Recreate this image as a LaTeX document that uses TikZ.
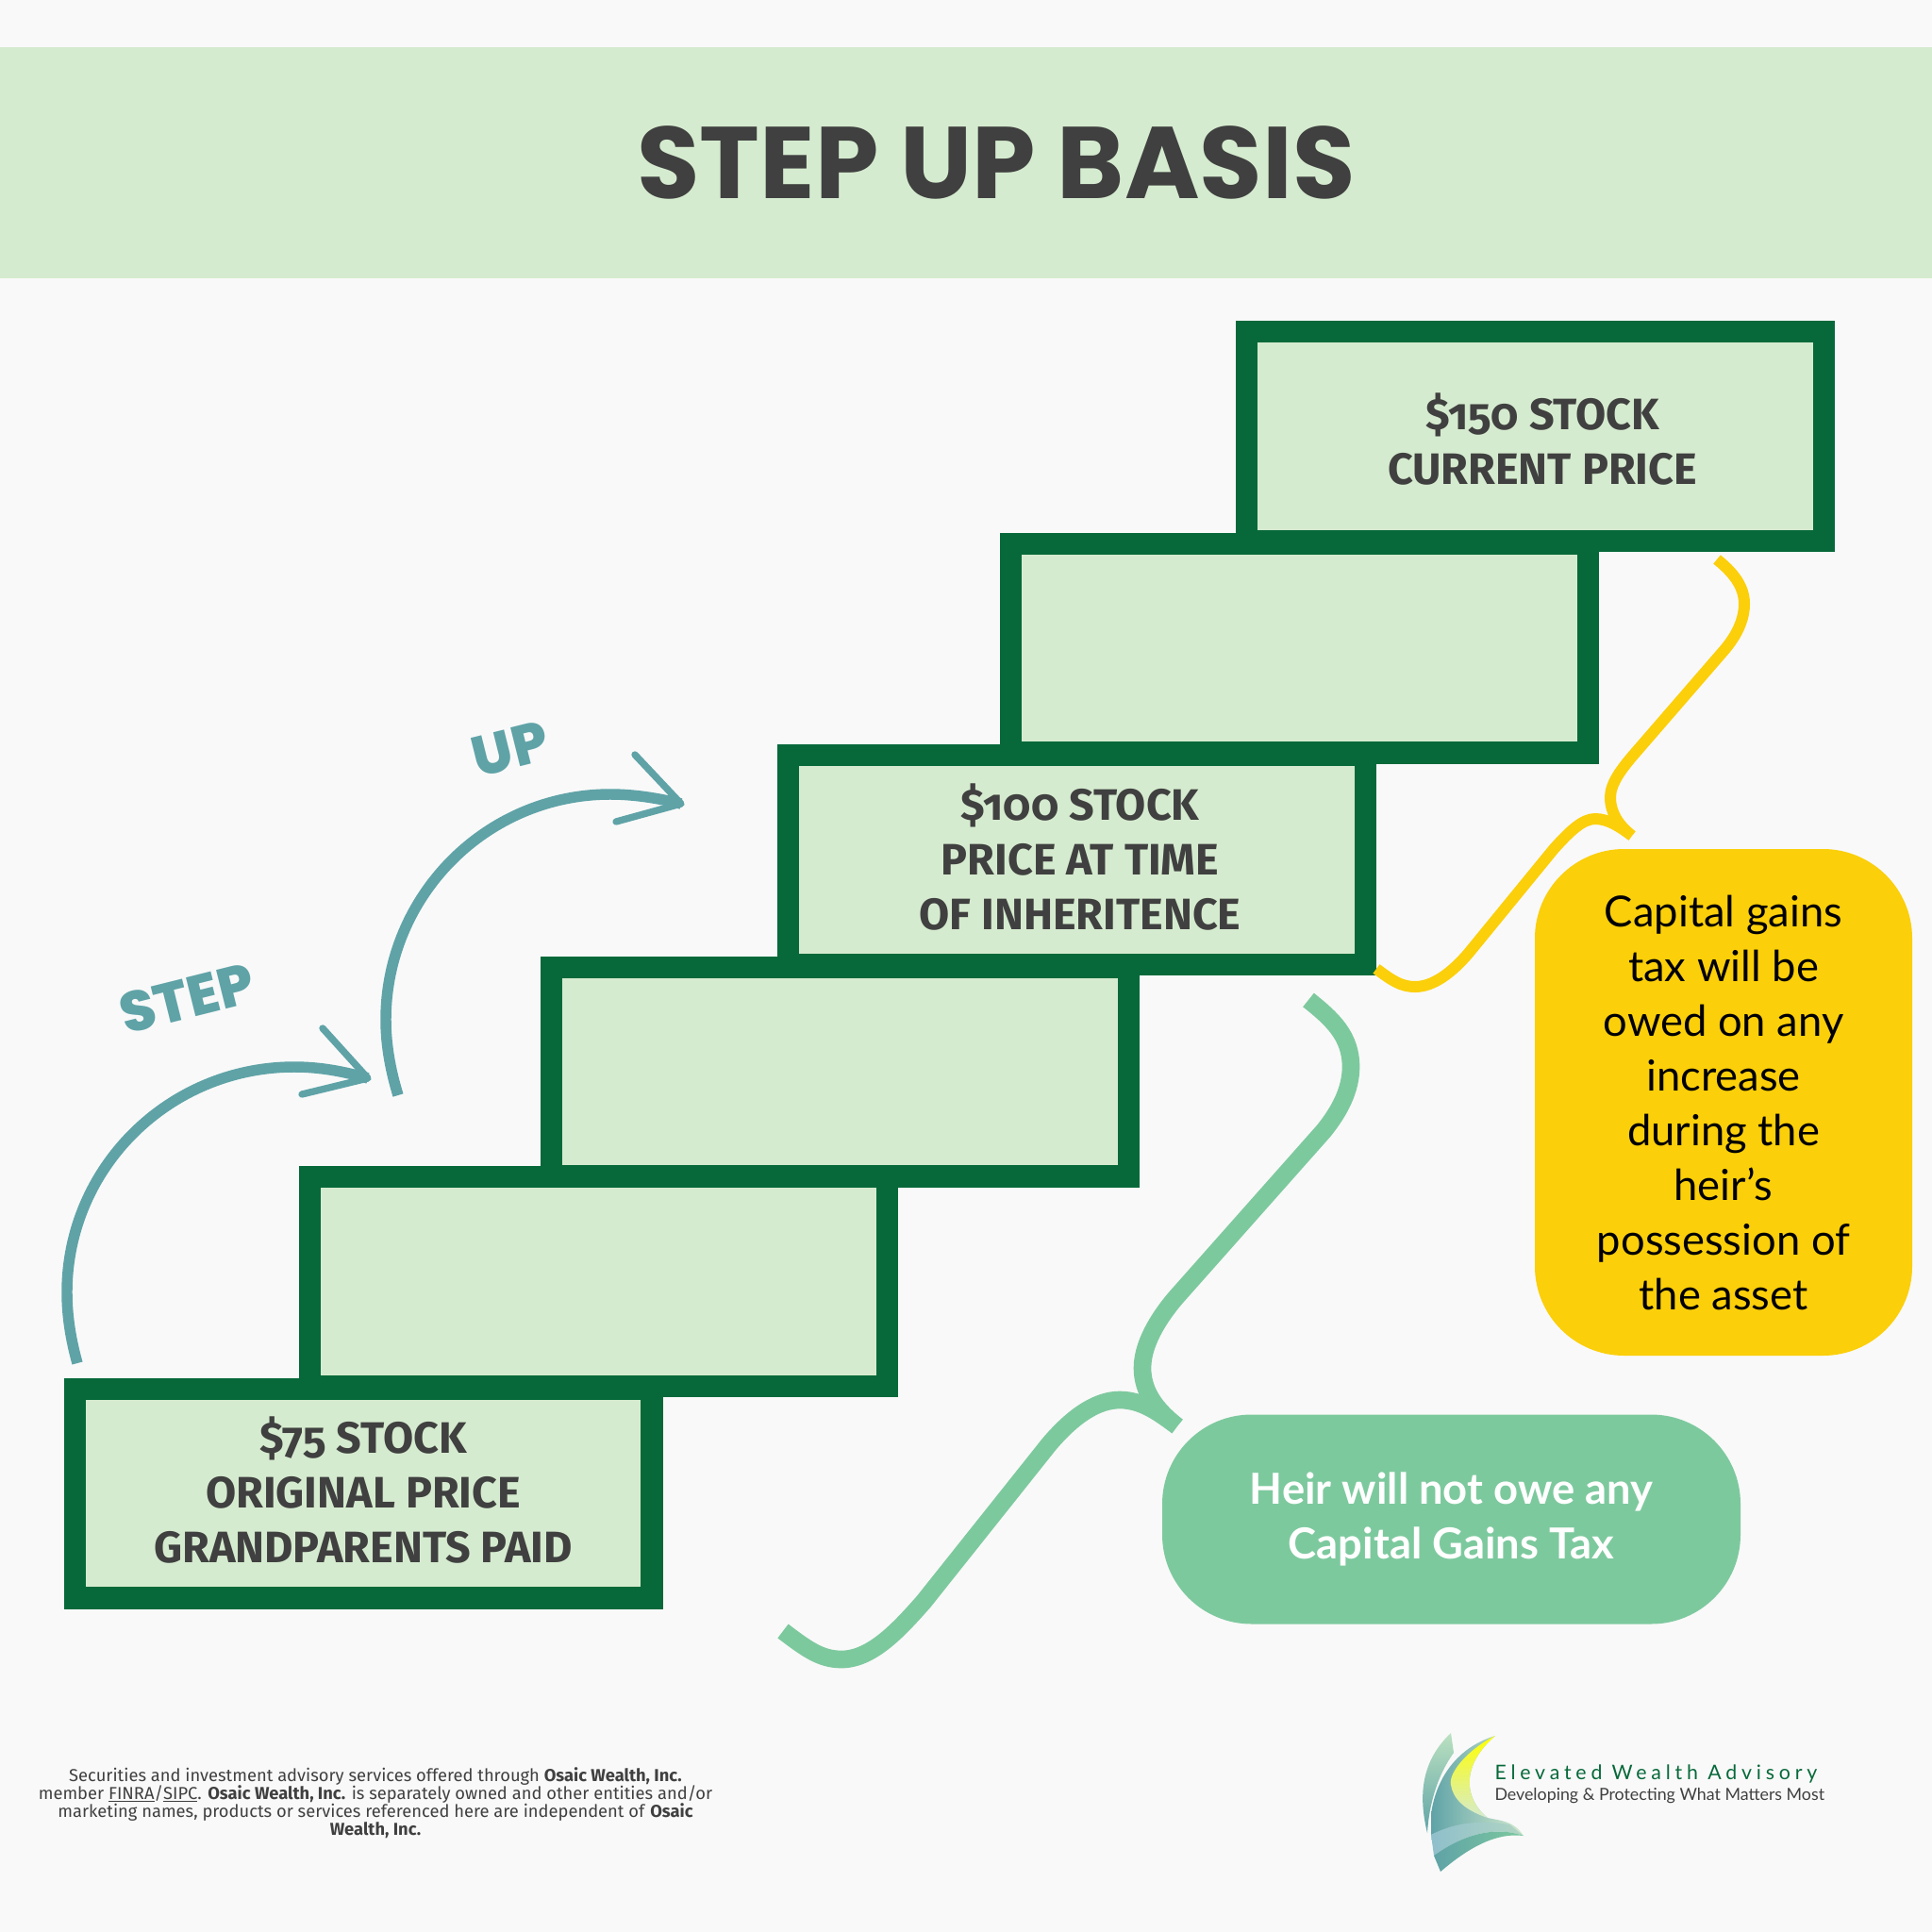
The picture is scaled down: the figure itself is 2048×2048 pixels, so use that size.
\documentclass[tikz,border=0pt]{standalone}
\usepackage{fontspec}
\setmainfont{Fira Sans}
\newfontfamily\boxfont{Fira Sans}[Numbers=OldStyle]
\newfontfamily\titlefont{Poppins}
\newfontfamily\hopfont{Poppins ExtraBold}
\newfontfamily\bubblefont{Lato}
\newfontfamily\smallfont{Fira Sans}
\newfontfamily\brandfont{Lato}[LetterSpace=22.5]
\newfontfamily\mottofont{Lato}
\definecolor{pagebg}{HTML}{F9F9F9}
\definecolor{palegreen}{HTML}{D5EBCF}
\definecolor{stepgreen}{HTML}{07693A}
\definecolor{inkgrey}{HTML}{404040}
\definecolor{tealline}{HTML}{5FA3A7}
\definecolor{bracegreen}{HTML}{7DC99E}
\definecolor{braceyellow}{HTML}{FBCF0A}
\definecolor{logoblue}{HTML}{8FBFCB}
\tikzset{every picture/.style={line width=0.75pt},
  stepbox/.style={draw=stepgreen,fill=palegreen,line width=17.6pt,minimum width=458.65pt,minimum height=166.15pt,inner sep=0pt},
  steptext/.style={text=inkgrey,align=center,inner sep=0pt,font=\boxfont\bfseries\fontsize{35}{43.5}\selectfont},
  hoplabel/.style={text=tealline,inner sep=0pt,rotate=14,font=\hopfont\fontsize{45}{48}\selectfont},
  hopline/.style={draw=tealline,line width=8.6pt},
  hophead/.style={draw=tealline,line width=5.5pt,line cap=round,line join=round},
  pill/.style={rounded corners=71pt,inner sep=0pt,align=center},
}

\begin{document}
\begin{tikzpicture}[x=0.75pt,y=0.75pt,yscale=-1,xscale=1]
\useasboundingbox (0,0) rectangle (2048,2048);
\fill[pagebg] (0,0) rectangle (2048,2048);

% Banner
\node[fill=palegreen,minimum width=1536pt,minimum height=183.75pt,inner sep=0pt] (banner) at (1024,172.5) {};
\node[text=inkgrey,inner sep=0pt,font=\titlefont\bfseries\fontsize{81}{83}\selectfont] (title) at (1056,172) {STEP UP BASIS};

% Stair boxes
\node[stepbox] (box1) at (385,1583) {};
\node[stepbox] (box2) at (634.5,1358.5) {};
\node[stepbox] (box3) at (890.5,1136) {};
\node[stepbox] (box4) at (1141.5,911.5) {};
\node[stepbox] (box5) at (1377.5,687) {};
\node[stepbox] (box6) at (1627.5,462.5) {};

% Text Node
\node[steptext] (text1) at (385,1580) {\$75 STOCK\\ORIGINAL PRICE\\GRANDPARENTS PAID};
\node[steptext] (text4) at (1145,909) {\$100 STOCK\\PRICE AT TIME\\OF INHERITENCE};
\node[steptext] (text6) at (1635,466) {\$150 STOCK\\CURRENT PRICE};

% Hop arrows
\coordinate (hopa) at (82,1445);
\coordinate (hopb) at (390,1143);
\coordinate (hopc) at (422,1161);
\coordinate (hopd) at (722,852);
\draw[hopline] (hopa) .. controls (75,1420) and (71,1395) .. (71,1370) .. controls (71,1238) and (179,1131) .. (312,1131) .. controls (340,1131) and (365,1136) .. (hopb);
\draw[hophead] (342,1090) -- (hopb) -- (320,1160);
\draw[hopline] (hopc) .. controls (414,1135) and (409,1108) .. (409,1081) .. controls (409,950) and (515,842) .. (647,842) .. controls (672,842) and (697,846) .. (hopd);
\draw[hophead] (673,800) -- (hopd) -- (653,871);
\node[hoplabel] (steplabel) at (198,1058) {STEP};
\node[hoplabel] (uplabel) at (541,794) {UP};

% Yellow brace
\coordinate (ytip) at (1730,886);
\draw[draw=braceyellow,line width=9pt] (1459,1027) .. controls (1475,1039) and (1485,1046) .. (1500,1046) .. controls (1520,1046) and (1540,1030) .. (1557,1010) -- (1647,900) .. controls (1665,880) and (1678,868) .. (1691,868) .. controls (1705,868) and (1718,877) .. (ytip)
  (ytip) .. controls (1716,875) and (1707,862) .. (1707,845) .. controls (1707,830) and (1720,814) .. (1730,802) -- (1827,690) .. controls (1840,675) and (1849,658) .. (1849,640) .. controls (1849,620) and (1835,605) .. (1820,593);

% Green brace
\coordinate (gtip) at (1248,1512);
\draw[draw=bracegreen,line width=14pt] (830,1729) .. controls (855,1748) and (870,1759) .. (892,1759) .. controls (925,1759) and (955,1725) .. (979,1698) -- (1112,1531) .. controls (1140,1498) and (1165,1484) .. (1187,1484) .. controls (1210,1484) and (1228,1497) .. (gtip)
  (gtip) .. controls (1225,1494) and (1211,1475) .. (1211,1450) .. controls (1211,1420) and (1235,1389) .. (1246,1376) -- (1403,1199) .. controls (1420,1178) and (1432,1155) .. (1432,1131) .. controls (1432,1098) and (1412,1080) .. (1387,1060);

% Bubbles
\node[pill,fill=braceyellow,minimum width=300pt,minimum height=402.75pt,text=black,font=\bubblefont\fontsize{34}{43.5}\selectfont] (taxbubble) at (1827,1168.5) {Capital gains\\tax will be\\owed on any\\increase\\during the\\heir’s\\possession of\\the asset};
\node[pill,fill=bracegreen,minimum width=459.75pt,minimum height=166.5pt,text=white,font=\bubblefont\bfseries\fontsize{34}{43.5}\selectfont] (heirbubble) at (1538.5,1610.5) {Heir will not owe any\\Capital Gains Tax};

% Disclaimer
\node[text=inkgrey,align=center,inner sep=0pt,font=\smallfont\fontsize{13.75}{14.3}\selectfont] (disclaimer) at (398,1911) {Securities and investment advisory services offered through \textbf{Osaic Wealth, Inc.}\\member \underline{FINRA}/\underline{SIPC}. \textbf{Osaic Wealth, Inc.} is separately owned and other entities and/or\\marketing names, products or services referenced here are independent of \textbf{Osaic}\\\textbf{Wealth, Inc.}};

% Logo
\shade[top color=palegreen!70!bracegreen,bottom color=tealline] (1538,1837) -- (1541,1858) .. controls (1525,1880) and (1515,1910) .. (1513,1943) .. controls (1505,1910) and (1503,1870) .. (1538,1837) -- cycle;
\shade[left color=tealline,middle color=bracegreen,right color=palegreen] (1585,1840) .. controls (1545,1852) and (1522,1885) .. (1517,1923) -- (1517,1945) .. controls (1550,1930) and (1590,1928) .. (1615,1946) .. controls (1605,1930) and (1590,1930) .. (1577,1927) .. controls (1550,1905) and (1550,1870) .. (1585,1840) -- cycle;
\shade[top color=yellow,bottom color=palegreen] (1585,1840) .. controls (1555,1855) and (1535,1880) .. (1538,1892) .. controls (1540,1905) and (1550,1918) .. (1577,1927) .. controls (1550,1905) and (1550,1870) .. (1585,1840) -- cycle;
\shade[left color=logoblue,middle color=yellow,right color=palegreen!70!tealline] (1517,1945) .. controls (1545,1930) and (1575,1930) .. (1600,1934) -- (1615,1946) .. controls (1585,1935) and (1550,1945) .. (1520,1967) -- cycle;
\shade[left color=tealline,right color=bracegreen] (1520,1967) .. controls (1550,1945) and (1585,1935) .. (1615,1946) .. controls (1585,1942) and (1555,1960) .. (1527,1984) -- cycle;
\node[text=stepgreen,anchor=base west,inner sep=0pt,font=\brandfont\fontsize{16}{18}\selectfont] (brand) at (1584,1886) {Elevated Wealth Advisory};
\node[text=inkgrey,anchor=base west,inner sep=0pt,font=\mottofont\fontsize{13.35}{15}\selectfont] (motto) at (1584,1908) {Developing \& Protecting What Matters Most};

\end{tikzpicture}
\end{document}
